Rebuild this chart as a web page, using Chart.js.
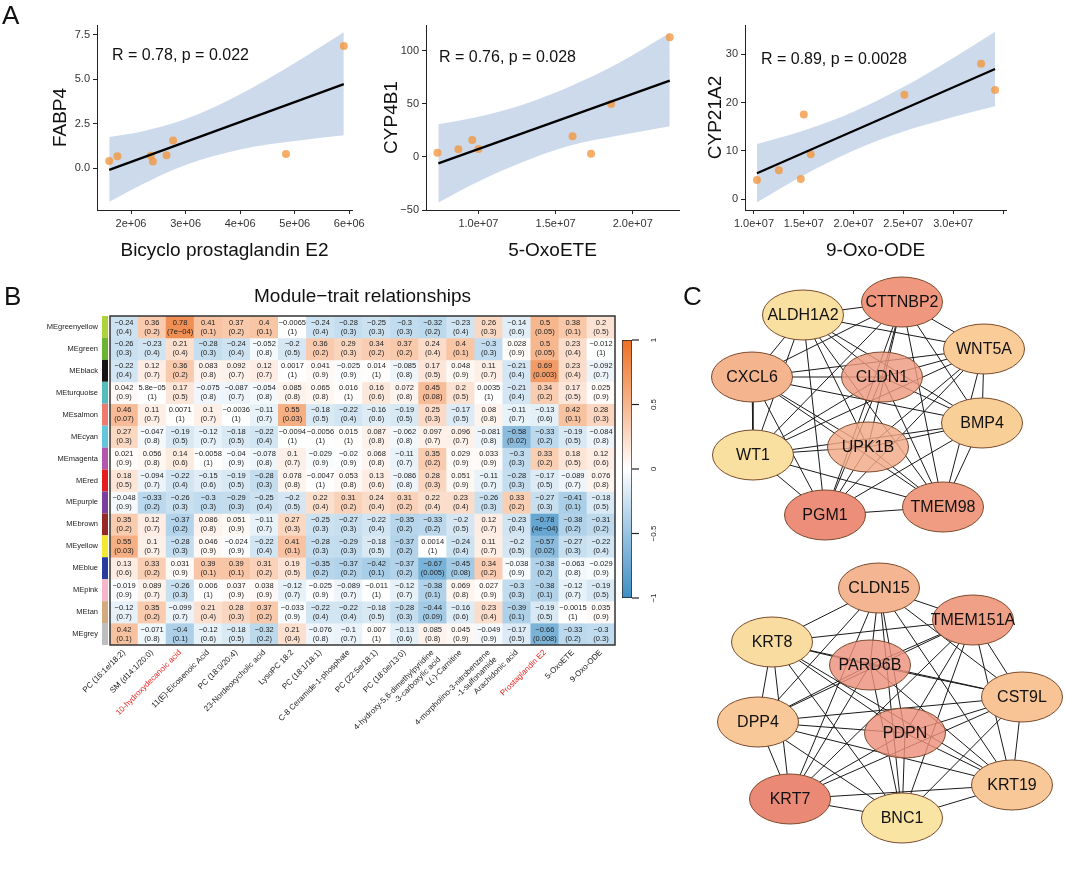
<!DOCTYPE html>
<html>
<head>
<meta charset="utf-8">
<script src="https://cdn.jsdelivr.net/npm/chart.js@4.4.1/dist/chart.umd.min.js"></script>
<style>
  body { margin: 0; background: #fff; width: 1065px; height: 878px; position: relative; overflow: hidden;
         font-family: "Liberation Sans", Arial, sans-serif; }
  canvas { position: absolute; }
  .panel { position: absolute; font-size: 26px; line-height: 26px; color: #111; z-index: 2; }
</style>
</head>
<body>
<div class="panel" style="left:2px;top:2px">A</div>
<div class="panel" style="left:4px;top:283px">B</div>
<div class="panel" style="left:683px;top:283px">C</div>

<canvas id="sc1" width="372" height="262" style="left:0;top:0"></canvas>
<canvas id="sc2" width="345" height="262" style="left:355px;top:0"></canvas>
<canvas id="sc3" width="365" height="262" style="left:700px;top:0"></canvas>
<canvas id="heat" width="725" height="500" style="left:0;top:280px"></canvas>
<canvas id="cbar" width="80" height="300" style="left:600px;top:320px"></canvas>
<canvas id="net" width="365" height="608" style="left:700px;top:270px"></canvas>

<script>
// ---- panel A: scatter data ----
const fabp4X = [1.6e6, 1.75e6, 2.36e6, 2.4e6, 2.65e6, 2.77e6, 4.84e6, 5.9e6];
const fabp4Y = [0.40, 0.67, 0.70, 0.37, 0.73, 1.55, 0.79, 6.88];
const fabp4FitX = [1.6e6, 5.9e6];
const fabp4FitY = [-0.1, 4.73];
const fabp4BandX = [1.6e6, 2.2e6, 3.0e6, 4.0e6, 5.0e6, 5.9e6];
const fabp4Upper = [1.75, 2.06, 2.76, 4.16, 5.92, 7.65];
const fabp4Lower = [-1.9, -0.92, 0.18, 1.05, 1.52, 1.85];

const cyp4b1X = [7.34e6, 8.7e6, 9.6e6, 1.0e7, 1.61e7, 1.73e7, 1.86e7, 2.24e7];
const cyp4b1Y = [4, 7.2, 16, 7.5, 19.5, 3, 50, 113];
const cyp4b1FitX = [7.4e6, 2.24e7];
const cyp4b1FitY = [-6, 72];
const cyp4b1BandX = [7.4e6, 1.0e7, 1.3e7, 1.6e7, 1.9e7, 2.24e7];
const cyp4b1Upper = [31, 38, 50, 67, 88, 117];
const cyp4b1Lower = [-43, -23, -4, 11, 20, 29];

const cyp21X = [1.03e7, 1.25e7, 1.47e7, 1.5e7, 1.57e7, 2.51e7, 3.28e7, 3.42e7];
const cyp21Y = [4.0, 6.0, 4.2, 17.5, 9.3, 21.6, 28.0, 22.6];
const cyp21FitX = [1.03e7, 3.42e7];
const cyp21FitY = [5.4, 26.9];
const cyp21BandX = [1.03e7, 1.5e7, 2.0e7, 2.5e7, 3.0e7, 3.42e7];
const cyp21Upper = [11.4, 14.2, 18.1, 23.2, 29.2, 34.6];
const cyp21Lower = [-0.6, 5.0, 10.1, 14.0, 17.0, 19.2];

// ---- panel B: module-trait heatmap ----
const moduleNames = ['MEgreenyellow', 'MEgreen', 'MEblack', 'MEturquoise', 'MEsalmon', 'MEcyan', 'MEmagenta',
  'MEred', 'MEpurple', 'MEbrown', 'MEyellow', 'MEblue', 'MEpink', 'MEtan', 'MEgrey'];
const moduleColors = ['#add23c', '#6cb432', '#141414', '#55bcbc', '#ee7a6e', '#64c6dc', '#b456ac',
  '#e41e1e', '#7a3e9e', '#962828', '#f4e832', '#283ca0', '#f4b6c8', '#d2aa82', '#bebebe'];
const traitNames = ['PC (16:1e/18:2)', 'SM (d14:1/20:0)', '10-hydroxydecanoic acid', '11(E)-Eicosenoic Acid',
  'PC (18:0/20:4)', '23-Nordeoxycholic acid', 'LysoPC 18:2', 'PC (18:1/18:1)', 'C-8 Ceramide-1-phosphate',
  'PC (22:5e/18:1)', 'PC (18:0e/13:0)', ['4-hydroxy-5,6-dimethylpyridine', '-3-carboxylic acid'],
  'L(-)-Carnitine', ['4-morpholino-3-nitrobenzene', '-1-sulfonamide'], 'Arachidonic acid',
  'Prostaglandin E2', '5-OxoETE', '9-Oxo-ODE'];
const redTraits = [2, 15];
const moduleCorr = [
  [-0.24, 0.36, 0.78, 0.41, 0.37, 0.4, -0.0065, -0.24, -0.28, -0.25, -0.3, -0.32, -0.23, 0.26, -0.14, 0.5, 0.38, 0.2],
  [-0.26, -0.23, 0.21, -0.28, -0.24, -0.052, -0.2, 0.36, 0.29, 0.34, 0.37, 0.24, 0.4, -0.3, 0.028, 0.5, 0.23, -0.012],
  [-0.22, 0.12, 0.36, 0.083, 0.092, 0.12, 0.0017, 0.041, -0.025, 0.014, -0.085, 0.17, 0.048, 0.11, -0.21, 0.69, 0.23, -0.092],
  [0.042, 5.8e-5, 0.17, -0.075, -0.087, -0.054, 0.085, 0.065, 0.016, 0.16, 0.072, 0.45, 0.2, 0.0035, -0.21, 0.34, 0.17, 0.025],
  [0.46, 0.11, 0.0071, 0.1, -0.0036, -0.11, 0.55, -0.18, -0.22, -0.16, -0.19, 0.25, -0.17, 0.08, -0.11, -0.13, 0.42, 0.28],
  [0.27, -0.047, -0.19, -0.12, -0.18, -0.22, -0.0094, -0.0056, 0.015, 0.087, -0.062, 0.097, 0.096, -0.081, -0.58, -0.33, -0.19, -0.084],
  [0.021, 0.056, 0.14, -0.0058, -0.04, -0.078, 0.1, -0.029, -0.02, 0.068, -0.11, 0.35, 0.029, 0.033, -0.3, 0.33, 0.18, 0.12],
  [0.18, -0.094, -0.22, -0.15, -0.19, -0.28, 0.078, -0.0047, 0.053, 0.13, -0.086, 0.28, 0.051, -0.11, -0.28, -0.17, -0.089, 0.076],
  [-0.048, -0.33, -0.26, -0.3, -0.29, -0.25, -0.2, 0.22, 0.31, 0.24, 0.31, 0.22, 0.23, -0.26, 0.33, -0.27, -0.41, -0.18],
  [0.35, 0.12, -0.37, 0.086, 0.051, -0.11, 0.27, -0.25, -0.27, -0.22, -0.35, -0.33, -0.2, 0.12, -0.23, -0.78, -0.38, -0.31],
  [0.55, 0.1, -0.28, 0.046, -0.024, -0.22, 0.41, -0.28, -0.29, -0.18, -0.37, 0.0014, -0.24, 0.11, -0.2, -0.57, -0.27, -0.22],
  [0.13, 0.33, 0.031, 0.39, 0.39, 0.31, 0.19, -0.35, -0.37, -0.42, -0.37, -0.67, -0.45, 0.34, -0.038, -0.38, -0.063, -0.029],
  [-0.019, 0.089, -0.26, 0.006, 0.037, 0.038, -0.12, -0.025, -0.089, -0.011, -0.12, -0.38, 0.069, 0.027, -0.3, -0.38, -0.12, -0.19],
  [-0.12, 0.35, -0.099, 0.21, 0.28, 0.37, -0.033, -0.22, -0.22, -0.18, -0.28, -0.44, -0.16, 0.23, -0.39, -0.19, -0.0015, 0.035],
  [0.42, -0.071, -0.4, -0.12, -0.18, -0.32, 0.21, -0.076, -0.1, 0.007, -0.13, 0.085, 0.045, -0.049, -0.17, -0.66, -0.33, -0.3]
];
const moduleP = [
  [0.4, 0.2, 7e-4, 0.1, 0.2, 0.1, 1, 0.4, 0.3, 0.3, 0.3, 0.2, 0.4, 0.3, 0.6, 0.05, 0.1, 0.5],
  [0.3, 0.4, 0.4, 0.3, 0.4, 0.8, 0.5, 0.2, 0.3, 0.2, 0.2, 0.4, 0.1, 0.3, 0.9, 0.05, 0.4, 1],
  [0.4, 0.7, 0.2, 0.8, 0.7, 0.7, 1, 0.9, 0.9, 1, 0.8, 0.5, 0.9, 0.7, 0.4, 0.003, 0.4, 0.7],
  [0.9, 1, 0.5, 0.8, 0.7, 0.8, 0.8, 0.8, 1, 0.6, 0.8, 0.08, 0.5, 1, 0.4, 0.2, 0.5, 0.9],
  [0.07, 0.7, 1, 0.7, 1, 0.7, 0.03, 0.5, 0.4, 0.6, 0.5, 0.3, 0.5, 0.8, 0.7, 0.6, 0.1, 0.3],
  [0.3, 0.8, 0.5, 0.7, 0.5, 0.4, 1, 1, 1, 0.8, 0.8, 0.7, 0.7, 0.8, 0.02, 0.2, 0.5, 0.8],
  [0.9, 0.8, 0.6, 1, 0.9, 0.8, 0.7, 0.9, 0.9, 0.8, 0.7, 0.2, 0.9, 0.9, 0.3, 0.2, 0.5, 0.6],
  [0.5, 0.7, 0.4, 0.6, 0.5, 0.3, 0.8, 1, 0.8, 0.6, 0.8, 0.3, 0.9, 0.7, 0.3, 0.5, 0.7, 0.8],
  [0.9, 0.2, 0.3, 0.3, 0.3, 0.4, 0.5, 0.4, 0.2, 0.4, 0.2, 0.4, 0.4, 0.3, 0.2, 0.3, 0.1, 0.5],
  [0.2, 0.7, 0.2, 0.8, 0.9, 0.7, 0.3, 0.3, 0.3, 0.4, 0.2, 0.2, 0.5, 0.7, 0.4, 4e-4, 0.2, 0.2],
  [0.03, 0.7, 0.3, 0.9, 0.9, 0.4, 0.1, 0.3, 0.3, 0.5, 0.2, 1, 0.4, 0.7, 0.5, 0.02, 0.3, 0.4],
  [0.6, 0.2, 0.9, 0.1, 0.1, 0.2, 0.5, 0.2, 0.2, 0.1, 0.2, 0.005, 0.08, 0.2, 0.9, 0.2, 0.8, 0.9],
  [0.9, 0.7, 0.3, 1, 0.9, 0.9, 0.7, 0.9, 0.7, 1, 0.7, 0.1, 0.8, 0.9, 0.3, 0.1, 0.7, 0.5],
  [0.7, 0.2, 0.7, 0.4, 0.3, 0.2, 0.9, 0.4, 0.4, 0.5, 0.3, 0.09, 0.6, 0.4, 0.1, 0.5, 1, 0.9],
  [0.1, 0.8, 0.1, 0.6, 0.5, 0.2, 0.4, 0.8, 0.7, 1, 0.6, 0.8, 0.9, 0.9, 0.5, 0.008, 0.2, 0.3]
];
const scaleStops = [-1, -0.5, 0, 0.5, 1];
const scaleColors = [[62, 142, 196], [152, 196, 226], [255, 255, 255], [246, 182, 142], [236, 112, 36]];
const colorbarTicks = [-1, -0.5, 0, 0.5, 1];

// ---- panel C: PPI networks ----
const net1Names = ['CTTNBP2', 'ALDH1A2', 'WNT5A', 'CXCL6', 'CLDN1', 'BMP4', 'UPK1B', 'WT1', 'PGM1', 'TMEM98'];
const net1X = [902, 803, 984, 752, 882, 982, 868, 753, 825, 943];
const net1Y = [302, 315, 349, 377, 377, 423, 447, 455, 515, 507];
const net1Edges = [
  ['ALDH1A2', 'CTTNBP2'], ['ALDH1A2', 'CXCL6'], ['ALDH1A2', 'WT1'], ['ALDH1A2', 'PGM1'], ['ALDH1A2', 'UPK1B'],
  ['ALDH1A2', 'WNT5A'], ['ALDH1A2', 'BMP4'], ['ALDH1A2', 'TMEM98'], ['ALDH1A2', 'CLDN1'],
  ['CTTNBP2', 'WNT5A'], ['CTTNBP2', 'CXCL6'], ['CTTNBP2', 'WT1'], ['CTTNBP2', 'PGM1'], ['CTTNBP2', 'UPK1B'],
  ['CTTNBP2', 'TMEM98'], ['CTTNBP2', 'BMP4'], ['CTTNBP2', 'CLDN1'],
  ['WNT5A', 'CXCL6'], ['WNT5A', 'CLDN1'], ['WNT5A', 'BMP4'], ['WNT5A', 'TMEM98'], ['WNT5A', 'UPK1B'],
  ['WNT5A', 'WT1'], ['WNT5A', 'PGM1'],
  ['CXCL6', 'CLDN1'], ['CXCL6', 'BMP4'], ['CXCL6', 'WT1'], ['CXCL6', 'PGM1'], ['CXCL6', 'TMEM98'], ['CXCL6', 'UPK1B'],
  ['CLDN1', 'WT1'], ['CLDN1', 'PGM1'], ['CLDN1', 'TMEM98'], ['CLDN1', 'BMP4'],
  ['BMP4', 'WT1'], ['BMP4', 'UPK1B'], ['BMP4', 'TMEM98'], ['BMP4', 'PGM1'],
  ['UPK1B', 'WT1'], ['UPK1B', 'PGM1'], ['UPK1B', 'TMEM98'],
  ['WT1', 'PGM1'], ['WT1', 'TMEM98'], ['PGM1', 'TMEM98']
];
const net2Names = ['CLDN15', 'TMEM151A', 'KRT8', 'PARD6B', 'CST9L', 'DPP4', 'PDPN', 'KRT19', 'KRT7', 'BNC1'];
const net2X = [879, 973, 772, 870, 1022, 758, 905, 1012, 790, 902];
const net2Y = [588, 620, 642, 665, 697, 722, 733, 785, 799, 818];
const net2Edges = [
  ['CLDN15', 'TMEM151A'], ['CLDN15', 'KRT8'], ['CLDN15', 'DPP4'], ['CLDN15', 'KRT7'], ['CLDN15', 'BNC1'],
  ['CLDN15', 'PDPN'], ['CLDN15', 'KRT19'], ['CLDN15', 'CST9L'], ['CLDN15', 'PARD6B'],
  ['TMEM151A', 'KRT8'], ['TMEM151A', 'PARD6B'], ['TMEM151A', 'DPP4'], ['TMEM151A', 'KRT7'], ['TMEM151A', 'BNC1'],
  ['TMEM151A', 'PDPN'], ['TMEM151A', 'KRT19'], ['TMEM151A', 'CST9L'],
  ['KRT8', 'PARD6B'], ['KRT8', 'CST9L'], ['KRT8', 'DPP4'], ['KRT8', 'KRT7'], ['KRT8', 'PDPN'], ['KRT8', 'KRT19'], ['KRT8', 'BNC1'],
  ['PARD6B', 'CST9L'], ['PARD6B', 'DPP4'], ['PARD6B', 'KRT7'], ['PARD6B', 'BNC1'], ['PARD6B', 'KRT19'],
  ['CST9L', 'DPP4'], ['CST9L', 'KRT7'], ['CST9L', 'BNC1'], ['CST9L', 'KRT19'], ['CST9L', 'PDPN'],
  ['DPP4', 'PDPN'], ['DPP4', 'KRT19'], ['DPP4', 'KRT7'], ['DPP4', 'BNC1'],
  ['PDPN', 'KRT19'], ['PDPN', 'KRT7'], ['PDPN', 'BNC1'],
  ['KRT19', 'KRT7'], ['KRT19', 'BNC1'], ['KRT7', 'BNC1']
];
const nodeFill = {
  CTTNBP2: '#f0977f', ALDH1A2: '#f9e0a0', WNT5A: '#f9cc98', CXCL6: '#f4b48e', CLDN1: '#ee9a80', BMP4: '#f9cf98',
  UPK1B: '#f2a888', WT1: '#f9e0a0', PGM1: '#ec8e7a', TMEM98: '#f09c82',
  CLDN15: '#f4b692', TMEM151A: '#f0a086', KRT8: '#f9dca0', PARD6B: '#ec907c', CST9L: '#f8c496', DPP4: '#f8c898',
  PDPN: '#ec907c', KRT19: '#f8c898', KRT7: '#ea8a76', BNC1: '#f9e4a4'
};
const innerNodes = ['CLDN1', 'UPK1B', 'PARD6B', 'PDPN'];

// ---------------------------------------------------------------
const FONT = '"Liberation Sans", Arial, sans-serif';
Chart.defaults.font.family = FONT;
Chart.defaults.color = '#222';
Chart.defaults.animation = false;
Chart.defaults.plugins.legend.display = false;
Chart.defaults.plugins.tooltip.enabled = false;

function fmt(v) {
  const s = (v !== 0 && Math.abs(v) < 0.001) ? v.toExponential(1).replace(/\.0e/, 'e').replace(/e([+-])(\d)$/, 'e$10$2') : String(v);
  return s.replace(/-/g, '\u2212');
}
function rgb(c) { return 'rgb(' + c.join(',') + ')'; }
function colorFor(v) {
  for (let i = 0; i < scaleStops.length - 1; i++) {
    if (v <= scaleStops[i + 1]) {
      const t = (v - scaleStops[i]) / (scaleStops[i + 1] - scaleStops[i]);
      const a = scaleColors[i], b = scaleColors[i + 1];
      return rgb(a.map((x, k) => Math.round(x + (b[k] - x) * t)));
    }
  }
  return rgb(scaleColors[scaleColors.length - 1]);
}
const pts = (xs, ys) => xs.map((x, i) => ({ x: x, y: ys[i] }));

// ---- scatter panels ----
function scatterPanel(id, o) {
  const textPlugin = {
    id: 'rlabel',
    afterDraw(chart) {
      const c = chart.ctx;
      c.save();
      c.font = '16px ' + FONT;
      c.fillStyle = '#111';
      c.textAlign = 'left';
      c.textBaseline = 'middle';
      c.fillText(o.label, chart.scales.x.getPixelForValue(o.labelAt[0]), chart.scales.y.getPixelForValue(o.labelAt[1]));
      c.restore();
    }
  };
  return new Chart(document.getElementById(id), {
    type: 'scatter',
    data: {
      datasets: [
        { data: pts(o.fitX, o.fitY), showLine: true, borderColor: '#000', borderWidth: 2.2, pointRadius: 0, order: 0 },
        { data: pts(o.x, o.y), pointRadius: 4, backgroundColor: 'rgba(242,150,62,0.78)', borderWidth: 0, order: 1 },
        { data: pts(o.bandX, o.upper), showLine: true, borderColor: 'rgba(0,0,0,0)', borderWidth: 0, pointRadius: 0,
          cubicInterpolationMode: 'monotone', fill: '+1', backgroundColor: 'rgba(196,212,232,0.85)', order: 2 },
        { data: pts(o.bandX, o.lower), showLine: true, borderColor: 'rgba(0,0,0,0)', borderWidth: 0, pointRadius: 0,
          cubicInterpolationMode: 'monotone', order: 3 }
      ]
    },
    options: {
      responsive: false,
      devicePixelRatio: 1,
      layout: { padding: o.padding },
      scales: {
        x: {
          type: 'linear', min: o.xRange[0], max: o.xRange[1],
          afterFit: s => { s.height = 52; },
          afterBuildTicks: s => { s.ticks = o.xTicks.map(v => ({ value: v })); },
          ticks: { callback: (v, i) => o.xTickLabels[i], maxRotation: 0, autoSkip: false, font: { size: 11 }, color: '#333', padding: 3 },
          grid: { drawOnChartArea: false, color: '#222', tickLength: 4 },
          border: { color: '#222', width: 1 },
          title: { display: true, text: o.xTitle, font: { size: 19 }, color: '#111', padding: { top: 2, bottom: 0 } }
        },
        y: {
          min: o.yRange[0], max: o.yRange[1],
          afterFit: s => { s.width = o.yWidth; },
          afterBuildTicks: s => { s.ticks = o.yTicks.map(v => ({ value: v })); },
          ticks: { callback: (v, i) => o.yTickLabels[i], font: { size: 11 }, color: '#333', padding: 3 },
          grid: { drawOnChartArea: false, color: '#222', tickLength: 4 },
          border: { color: '#222', width: 1 },
          title: { display: true, text: o.yTitle, font: { size: 19 }, color: '#111', padding: 0 }
        }
      }
    },
    plugins: [textPlugin]
  });
}

scatterPanel('sc1', {
  x: fabp4X, y: fabp4Y, fitX: fabp4FitX, fitY: fabp4FitY, bandX: fabp4BandX, upper: fabp4Upper, lower: fabp4Lower,
  xRange: [1.376e6, 6.05e6], yRange: [-2.36, 8.06],
  xTicks: [2e6, 3e6, 4e6, 5e6, 6e6], xTickLabels: ['2e+06', '3e+06', '4e+06', '5e+06', '6e+06'],
  yTicks: [0, 2.5, 5, 7.5], yTickLabels: ['0.0', '2.5', '5.0', '7.5'],
  xTitle: 'Bicyclo prostaglandin E2', yTitle: 'FABP4',
  label: 'R = 0.78, p = 0.022', labelAt: [1.65e6, 6.35],
  padding: { left: 49, right: 20, top: 25, bottom: 0 }, yWidth: 48
});
scatterPanel('sc2', {
  x: cyp4b1X, y: cyp4b1Y, fitX: cyp4b1FitX, fitY: cyp4b1FitY, bandX: cyp4b1BandX, upper: cyp4b1Upper, lower: cyp4b1Lower,
  xRange: [6.6e6, 2.3e7], yRange: [-50, 124.5],
  xTicks: [1e7, 1.5e7, 2e7], xTickLabels: ['1.0e+07', '1.5e+07', '2.0e+07'],
  yTicks: [-50, 0, 50, 100], yTickLabels: ['\u221250', '0', '50', '100'],
  xTitle: '5-OxoETE', yTitle: 'CYP4B1',
  label: 'R = 0.76, p = 0.028', labelAt: [7.44e6, 93.4],
  padding: { left: 25, right: 21, top: 25, bottom: 0 }, yWidth: 46
});
scatterPanel('sc3', {
  x: cyp21X, y: cyp21Y, fitX: cyp21FitX, fitY: cyp21FitY, bandX: cyp21BandX, upper: cyp21Upper, lower: cyp21Lower,
  xRange: [9.1e6, 3.53e7], yRange: [-2.2, 36],
  xTicks: [1e7, 1.5e7, 2e7, 2.5e7, 3e7, 3.5e7], xTickLabels: ['1.0e+07', '1.5e+07', '2.0e+07', '2.5e+07', '3.0e+07', ''],
  yTicks: [0, 10, 20, 30], yTickLabels: ['0', '10', '20', '30'],
  xTitle: '9-Oxo-ODE', yTitle: 'CYP21A2',
  label: 'R = 0.89, p = 0.0028', labelAt: [1.07e7, 28.8],
  padding: { left: 4, right: 59, top: 25, bottom: 0 }, yWidth: 41
});

// ---- heatmap ----
const heatDecor = {
  id: 'heatDecor',
  afterDatasetsDraw(chart) {
    const c = chart.ctx, a = chart.chartArea, y = chart.scales.y;
    c.save();
    moduleNames.forEach((n, i) => {
      const t = y.getPixelForValue(i), b = y.getPixelForValue(i + 1);
      c.fillStyle = moduleColors[i];
      c.fillRect(a.left - 8, t, 6, b - t);
    });
    c.font = '7.5px "Liberation Sans Narrow", ' + FONT;
    c.fillStyle = '#222';
    c.textAlign = 'center';
    c.textBaseline = 'middle';
    chart.data.datasets.forEach((ds, i) => {
      chart.getDatasetMeta(i).data.forEach((el, j) => {
        const cy = (el.y + el.base) / 2;
        c.fillText(fmt(moduleCorr[i][j]), el.x, cy - 4.5);
        c.fillText('(' + fmt(moduleP[i][j]) + ')', el.x, cy + 4.5);
      });
    });
    c.strokeStyle = '#333';
    c.lineWidth = 1.5;
    c.strokeRect(a.left, a.top, a.right - a.left, a.bottom - a.top);
    c.font = '19px ' + FONT;
    c.fillStyle = '#111';
    c.fillText('Module\u2212trait relationships', (a.left + a.right) / 2, a.top - 19);
    c.restore();
  }
};

new Chart(document.getElementById('heat'), {
  type: 'bar',
  data: {
    labels: traitNames,
    datasets: moduleNames.map((n, i) => ({
      label: n,
      data: traitNames.map(() => [i, i + 1]),
      backgroundColor: moduleCorr[i].map(colorFor),
      borderWidth: 0,
      barPercentage: 1,
      categoryPercentage: 1,
      grouped: false
    }))
  },
  options: {
    responsive: false,
    devicePixelRatio: 1,
    layout: { padding: { top: 36, left: 0, right: 110, bottom: 0 } },
    scales: {
      x: {
        afterFit: s => { s.height = 135; },
        ticks: {
          autoSkip: false, minRotation: 45, maxRotation: 45, padding: 3,
          font: { size: 8 },
          color: c => redTraits.includes(c.index) ? '#e8231c' : '#222'
        },
        grid: { display: false, drawTicks: false },
        border: { display: false }
      },
      y: {
        min: 0, max: 15, reverse: true,
        afterFit: s => { s.width = 110; },
        afterBuildTicks: s => { s.ticks = moduleNames.map((n, i) => ({ value: i + 0.5 })); },
        ticks: { callback: (v, i) => moduleNames[i], font: { size: 7.5 }, color: '#222', padding: 12, autoSkip: false },
        grid: { display: false, drawTicks: false },
        border: { display: false }
      }
    }
  },
  plugins: [heatDecor]
});

// ---- colour bar ----
const cbarDecor = {
  id: 'cbarDecor',
  afterDraw(chart) {
    const c = chart.ctx, a = chart.chartArea, y = chart.scales.y;
    c.save();
    c.strokeStyle = '#222';
    c.lineWidth = 1.2;
    c.fillStyle = '#222';
    c.font = '8px ' + FONT;
    c.textAlign = 'center';
    c.textBaseline = 'middle';
    colorbarTicks.forEach(v => {
      const py = y.getPixelForValue(v);
      c.beginPath();
      c.moveTo(a.right, py);
      c.lineTo(a.right + 7, py);
      c.stroke();
      c.save();
      c.translate(a.right + 22, py);
      c.rotate(-Math.PI / 2);
      c.fillText(fmt(v), 0, 0);
      c.restore();
    });
    c.restore();
  }
};
new Chart(document.getElementById('cbar'), {
  type: 'bar',
  data: {
    labels: ['r'],
    datasets: [{
      data: [[-1, 1]],
      backgroundColor: ctx => {
        const ch = ctx.chart;
        if (!ch.chartArea) return '#fff';
        const g = ch.ctx.createLinearGradient(0, ch.scales.y.getPixelForValue(-1), 0, ch.scales.y.getPixelForValue(1));
        scaleStops.forEach((s, i) => g.addColorStop((s + 1) / 2, rgb(scaleColors[i])));
        return g;
      },
      borderColor: '#222', borderWidth: 1, borderSkipped: false,
      barPercentage: 1, categoryPercentage: 1
    }]
  },
  options: {
    responsive: false,
    devicePixelRatio: 1,
    layout: { padding: { left: 22, right: 48, top: 20, bottom: 22 } },
    scales: { x: { display: false }, y: { display: false, min: -1, max: 1 } }
  },
  plugins: [cbarDecor]
});

// ---- networks ----
function edgePoints(names, xs, ys, edges) {
  const out = [];
  edges.forEach(e => {
    const a = names.indexOf(e[0]), b = names.indexOf(e[1]);
    out.push({ x: xs[a], y: ys[a] }, { x: xs[b], y: ys[b] }, { x: null, y: null });
  });
  return out;
}
const allNames = net1Names.concat(net2Names);
const nodeDraw = {
  id: 'nodeDraw',
  afterDatasetsDraw(chart) {
    const c = chart.ctx;
    c.save();
    chart.getDatasetMeta(2).data.forEach((el, i) => {
      const name = allNames[i];
      c.globalAlpha = innerNodes.includes(name) ? 0.82 : 1;
      c.beginPath();
      c.ellipse(el.x, el.y, 40.5, 25, 0, 0, Math.PI * 2);
      c.fillStyle = nodeFill[name];
      c.fill();
      c.globalAlpha = 1;
      c.strokeStyle = '#7a4a2c';
      c.lineWidth = 1;
      c.stroke();
      c.fillStyle = '#111';
      c.font = '16px ' + FONT;
      c.textAlign = 'center';
      c.textBaseline = 'middle';
      c.fillText(name, el.x, el.y + 1);
    });
    c.restore();
  }
};
new Chart(document.getElementById('net'), {
  type: 'scatter',
  data: {
    datasets: [
      { data: edgePoints(net1Names, net1X, net1Y, net1Edges), showLine: true, spanGaps: false, pointRadius: 0, borderColor: '#1a1a1a', borderWidth: 1 },
      { data: edgePoints(net2Names, net2X, net2Y, net2Edges), showLine: true, spanGaps: false, pointRadius: 0, borderColor: '#1a1a1a', borderWidth: 1 },
      { data: pts(net1X.concat(net2X), net1Y.concat(net2Y)), pointRadius: 0 }
    ]
  },
  options: {
    responsive: false,
    devicePixelRatio: 1,
    layout: { padding: 0 },
    scales: {
      x: { display: false, min: 700, max: 1065 },
      y: { display: false, min: 270, max: 878, reverse: true }
    }
  },
  plugins: [nodeDraw]
});
</script>
</body>
</html>
